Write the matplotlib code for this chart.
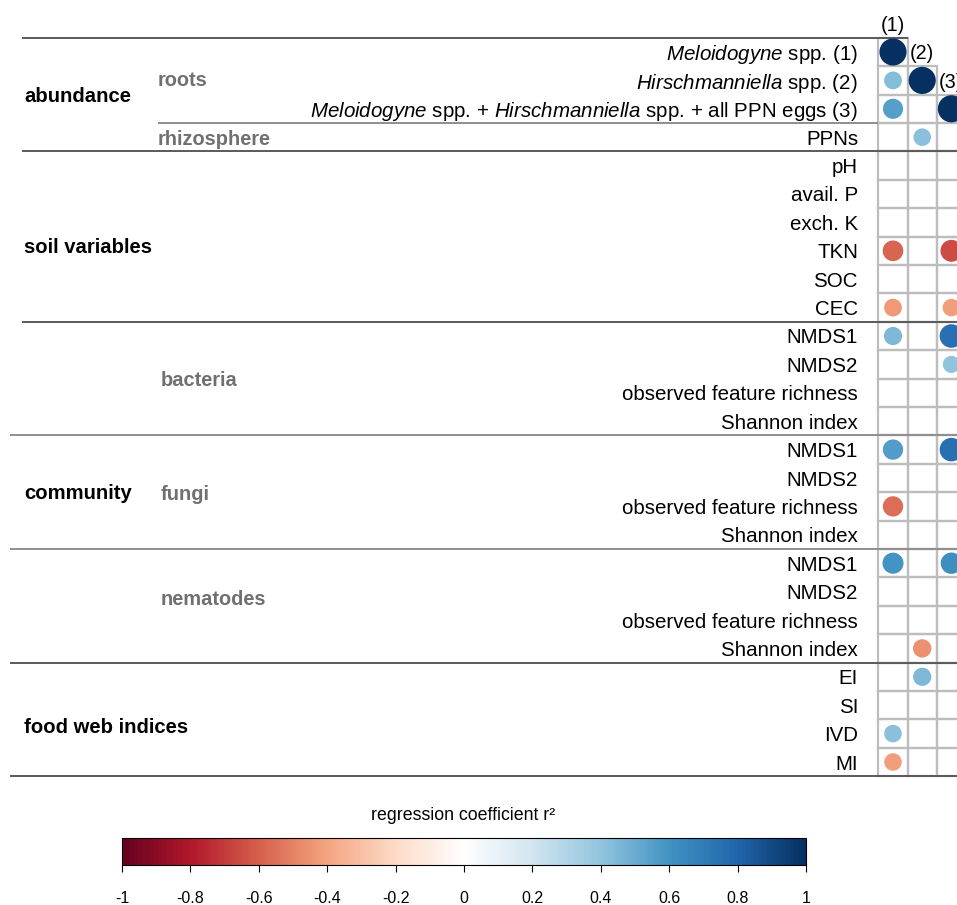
import numpy as np
import matplotlib
matplotlib.use("Agg")
import matplotlib.pyplot as plt
import matplotlib as mpl
from matplotlib.colors import LinearSegmentedColormap, Normalize
from matplotlib.patches import Rectangle
from matplotlib.transforms import blended_transform_factory

plt.rcParams['font.family'] = ['Liberation Sans', 'DejaVu Sans']
plt.rcParams['mathtext.fontset'] = 'custom'
plt.rcParams['mathtext.rm'] = 'Liberation Sans'
plt.rcParams['mathtext.it'] = 'Liberation Sans:italic'
plt.rcParams['mathtext.bf'] = 'Liberation Sans:bold'
plt.rcParams['axes.unicode_minus'] = False

# ---- data -------------------------------------------------------------
row_labels = [
    r"$\mathit{Meloidogyne}$ spp. (1)",
    r"$\mathit{Hirschmanniella}$ spp. (2)",
    r"$\mathit{Meloidogyne}$ spp. + $\mathit{Hirschmanniella}$ spp. + all PPN eggs (3)",
    "PPNs",
    "pH", "avail. P", "exch. K", "TKN", "SOC", "CEC",
    "NMDS1", "NMDS2", "observed feature richness", "Shannon index",
    "NMDS1", "NMDS2", "observed feature richness", "Shannon index",
    "NMDS1", "NMDS2", "observed feature richness", "Shannon index",
    "EI", "SI", "IVD", "MI",
]
col_labels = ["(1)", "(2)", "(3)"]

nan = np.nan
# regression coefficients of each response (rows) against columns (1)-(3)
coef_1 = [1.00, 0.43, 0.55, nan, nan, nan, nan, -0.58, nan, -0.43,
          0.45, nan, nan, nan, 0.56, nan, -0.56, nan, 0.60, nan,
          nan, nan, nan, nan, 0.42, -0.42]
coef_2 = [nan, 1.00, nan, 0.42, nan, nan, nan, nan, nan, nan,
          nan, nan, nan, nan, nan, nan, nan, nan, nan, nan,
          nan, -0.46, 0.45, nan, nan, nan]
coef_3 = [nan, nan, 1.00, nan, nan, nan, nan, -0.65, nan, -0.42,
          0.75, 0.40, nan, nan, 0.75, nan, nan, nan, 0.62, nan,
          nan, nan, nan, nan, nan, nan]

# main groups: label, vertical position (row units)
main_groups = ["abundance", "soil variables", "community", "food web indices"]
main_group_pos = [1.5, 6.83, 15.46, 23.7]
# sub groups: label, vertical position (row units)
sub_groups = ["roots", "rhizosphere", "bacteria", "fungi", "nematodes"]
sub_group_pos = [0.93, 3.0, 11.48, 15.5, 19.2]

cbar_ticks = [-1, -0.8, -0.6, -0.4, -0.2, 0, 0.2, 0.4, 0.6, 0.8, 1]

# ---- colours ----------------------------------------------------------
rdbu = ["#67001F", "#B2182B", "#D6604D", "#F4A582", "#FDDBC7", "#FFFFFF",
        "#D1E5F0", "#92C5DE", "#4393C3", "#2166AC", "#053061"]
cmap = LinearSegmentedColormap.from_list("rdbu_corr", rdbu, N=256)
norm = Normalize(-1, 1)

# ---- layout -----------------------------------------------------------
W, H, DPI = 957, 905, 100
COL_W, ROW_H = 29.2, 28.4      # cell size in pixels
X1, Y1 = 893, 52               # pixel centre of first cell

fig = plt.figure(figsize=(W / DPI, H / DPI), dpi=DPI)
ax = fig.add_axes([0, 0, 1, 1])
ax.set_xlim(1 - X1 / COL_W, 1 + (W - X1) / COL_W)
ax.set_ylim((H - Y1) / ROW_H, -Y1 / ROW_H)
ax.axis("off")


def fx(px):
    """horizontal pixel position -> column units"""
    return 1 + (px - X1) / COL_W


n_rows = len(row_labels)
columns = [coef_1, coef_2, coef_3]

# grid cells (upper triangle removed)
for ci in range(len(columns)):
    c = ci + 1
    for r in range(ci, n_rows):
        ax.add_patch(Rectangle((c - 0.5, r - 0.5), 1, 1, fill=False,
                               ec="#bdbdbd", lw=1.6, zorder=1))

# section separators
dark, light = "#5a5a5a", "#8e8e8e"
ax.hlines(-0.5, fx(22), 1.5, color=dark, lw=1.4, zorder=3)
ax.hlines(2.5, fx(158), 0.5, color=light, lw=1.4, zorder=3)
for y, x0, col in [(3.5, 22, dark), (9.5, 22, dark), (13.5, 10, light),
                   (17.5, 10, light), (21.5, 10, dark), (25.5, 10, dark)]:
    ax.hlines(y, fx(x0), 4.0, color=col, lw=1.4, zorder=3)

# circles: area proportional to |coefficient|
cell_px = ax.transData.transform((1, 0))[0] - ax.transData.transform((0, 0))[0]
for ci, vals in enumerate(columns):
    vals = np.asarray(vals, dtype=float)
    rows = np.where(~np.isnan(vals))[0]
    v = vals[rows]
    radius_px = 0.465 * np.sqrt(np.abs(v)) * cell_px
    sizes = (2 * radius_px * 72 / DPI) ** 2
    ax.scatter(np.full(len(rows), ci + 1), rows, s=sizes,
               c=cmap(norm(v)), edgecolors="none", zorder=4)

# column labels on the diagonal
for ci, lab in enumerate(col_labels):
    ax.text(ci + 1, ci - 1, lab, ha="center", va="center_baseline",
            fontsize=14.2, color="black")

# row labels
for r, lab in enumerate(row_labels):
    ax.text(fx(858), r, lab, ha="right", va="center_baseline",
            fontsize=14.8, color="black")

# group labels
tb = blended_transform_factory(fig.transFigure, ax.transData)
for lab, y in zip(main_groups, main_group_pos):
    ax.text(24 / W, y, lab, transform=tb, ha="left", va="center_baseline",
            fontsize=14.6, fontweight="bold", color="black")
sub_x = [158, 158, 161, 161, 161]
for lab, y, x in zip(sub_groups, sub_group_pos, sub_x):
    ax.text(x / W, y, lab, transform=tb, ha="left", va="center_baseline",
            fontsize=14.4, fontweight="bold", color="#707070")

# ---- colour bar -------------------------------------------------------
cax = fig.add_axes([122 / W, 1 - 865 / H, (806 - 122) / W, 27 / H])
cb = mpl.colorbar.ColorbarBase(cax, cmap=cmap, norm=norm,
                               orientation="horizontal", ticks=cbar_ticks)
cb.set_ticklabels([f"{t:g}" for t in cbar_ticks])
cb.outline.set_linewidth(0.8)
cax.tick_params(axis="x", length=5, width=0.8, pad=14, labelsize=11.5)
fig.text(463 / W, 1 - 815 / H, "regression coefficient r²", ha="center",
         va="center", fontsize=12.8)

fig.savefig("out.png", dpi=DPI)
